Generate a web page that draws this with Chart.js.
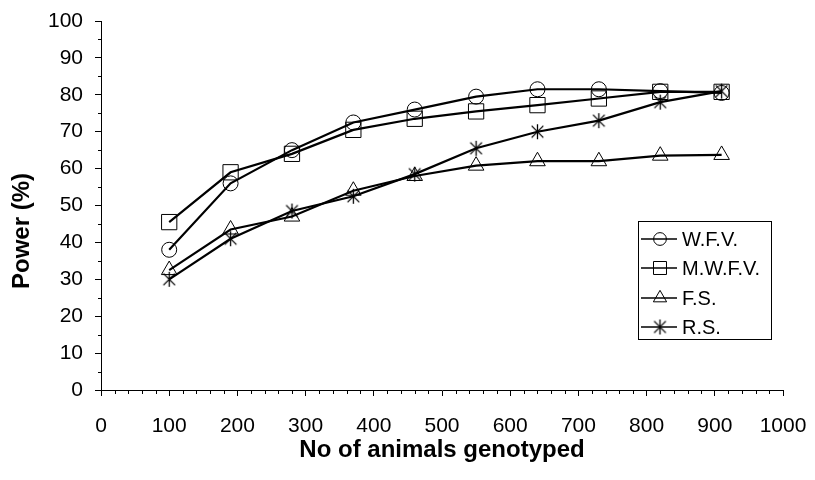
<!DOCTYPE html>
<html><head><meta charset="utf-8">
<script src="https://cdn.jsdelivr.net/npm/chart.js@4.4.1/dist/chart.umd.min.js"></script>
<style>
html,body{margin:0;padding:0;background:#fff;}
#wrap{position:relative;width:815px;height:480px;overflow:hidden;}
#ytitle{position:absolute;left:21px;top:231px;transform:translate(-50%,-50%) rotate(-90deg);font:bold 24px "Liberation Sans",Arial,sans-serif;white-space:nowrap;color:#000;}
#legend{position:absolute;left:638px;top:221px;width:132px;height:117px;border:1px solid #000;background:#fff;font:20px "Liberation Sans",Arial,sans-serif;color:#000;}
.row{position:absolute;left:0;height:24px;display:flex;align-items:center;white-space:nowrap;}
.row span{margin-left:3px;}
</style></head>
<body>
<div id="wrap"><canvas id="c" width="815" height="480"></canvas><div id="ytitle">Power (%)</div><div id="legend"></div></div>
<script>
// ---- data ----
const animals = [100, 190, 280, 370, 460, 550, 640, 730, 820, 910];
const wfv  = [38, 56, 65, 72.5, 76, 79.5, 81.5, 81.5, 81, 80.5];
const mwfv = [45.5, 59, 64, 70.5, 73.5, 75.5, 77.2, 79, 80.8, 80.8];
const fs   = [32.5, 43.5, 47, 54, 58, 60.8, 62, 62, 63.5, 63.7];
const rs   = [30, 41, 48.5, 52.5, 58.5, 65.5, 70, 73, 78, 81];
const seriesNames = ['W.F.V.', 'M.W.F.V.', 'F.S.', 'R.S.'];
const xTitle = 'No of animals genotyped';
const xMin = 0, xMax = 1000, xMajor = 100, xMinor = 20;
const yMin = 0, yMax = 100, yMajor = 10, yMinor = 5;

// ---- styles ----
const FONT = '"Liberation Sans", Arial, sans-serif';
Chart.defaults.font.family = FONT;
Chart.defaults.color = '#000';

function makeStar(size) {
  const c = document.createElement('canvas');
  c.width = size; c.height = size;
  const g = c.getContext('2d');
  const m = size / 2, r = size / 2 - 1;
  g.strokeStyle = '#000'; g.lineWidth = 1.3;
  g.beginPath();
  g.moveTo(m, m - r); g.lineTo(m, m + r);
  const d = r * 0.78;
  g.moveTo(m - d, m - d); g.lineTo(m + d, m + d);
  g.moveTo(m + d, m - d); g.lineTo(m - d, m + d);
  g.stroke();
  return c;
}
const starImg = makeStar(17);

const markerStyles = [
  {pointStyle: 'circle', radius: 7.5},
  {pointStyle: 'rect', radius: 10.8},
  {pointStyle: 'triangle', radius: 9},
  {pointStyle: starImg, radius: 8}
];
const seriesValues = [wfv, mwfv, fs, rs];

const datasets = seriesValues.map((vals, i) => ({
  label: seriesNames[i],
  data: animals.map((x, k) => ({x: x, y: vals[k]})),
  borderColor: '#000',
  borderWidth: 2.2,
  backgroundColor: 'rgba(0,0,0,0)',
  pointStyle: markerStyles[i].pointStyle,
  pointRadius: markerStyles[i].radius,
  pointBorderWidth: 1,
  pointBorderColor: '#000',
  pointBackgroundColor: 'rgba(0,0,0,0)',
  tension: 0,
  fill: false
}));

const minorTicks = {
  id: 'minorTicks',
  afterDraw(chart) {
    const {ctx, scales: {x, y}} = chart;
    ctx.save();
    ctx.strokeStyle = '#000'; ctx.lineWidth = 1;
    ctx.beginPath();
    for (let v = xMin; v <= xMax; v += xMinor) {
      if (v % xMajor === 0) continue;
      const px = Math.round(x.getPixelForValue(v)) + 0.5;
      ctx.moveTo(px, y.bottom); ctx.lineTo(px, y.bottom + 4);
    }
    for (let v = yMin; v <= yMax; v += yMinor) {
      if (v % yMajor === 0) continue;
      const py = Math.round(y.getPixelForValue(v)) + 0.5;
      ctx.moveTo(x.left - 3, py); ctx.lineTo(x.left, py);
    }
    ctx.stroke();
    ctx.restore();
  }
};

const chart = new Chart(document.getElementById('c'), {
  type: 'line',
  data: {datasets},
  plugins: [minorTicks],
  options: {
    responsive: false,
    animation: false,
    events: [],
    layout: {padding: {top: 21, right: 32, left: 0, bottom: 0}},
    plugins: {legend: {display: false}, tooltip: {enabled: false}},
    scales: {
      x: {
        type: 'linear', min: xMin, max: xMax,
        ticks: {stepSize: xMajor, font: {size: 21}, color: '#000', padding: 18, callback: v => String(v)},
        grid: {drawOnChartArea: false, tickLength: 6, tickColor: '#000'},
        border: {color: '#000', width: 1},
        title: {display: true, text: xTitle, font: {size: 24, weight: 'bold'}, color: '#000', padding: {top: 0, bottom: 15}},
        afterFit: s => { s.height = 90; s.paddingLeft = 0; s.paddingRight = 0; }
      },
      y: {
        type: 'linear', min: yMin, max: yMax,
        ticks: {stepSize: yMajor, font: {size: 21}, color: '#000', padding: 12, callback: v => String(v)},
        grid: {drawOnChartArea: false, tickLength: 6, tickColor: '#000'},
        border: {color: '#000', width: 1},
        afterFit: s => { s.width = 101; s.paddingTop = 0; s.paddingBottom = 0; }
      }
    }
  }
});

// ---- legend (HTML) ----
const legend = document.getElementById('legend');
const rowCenters = [17, 46, 76, 105];
seriesNames.forEach((name, i) => {
  const row = document.createElement('div');
  row.className = 'row';
  row.style.top = (rowCenters[i] - 12) + 'px';
  const cv = document.createElement('canvas');
  cv.width = 40; cv.height = 24;
  const g = cv.getContext('2d');
  g.strokeStyle = '#000'; g.lineWidth = 1;
  g.fillStyle = '#fff';
  const st = markerStyles[i].pointStyle;
  if (typeof st === 'string') {
    Chart.helpers.drawPoint(g, {pointStyle: st, radius: markerStyles[i].radius * 0.85, borderWidth: 1, rotation: 0}, 21, 12);
  } else {
    g.drawImage(st, 21 - st.width / 2, 12 - st.height / 2);
  }
  g.beginPath(); g.moveTo(2, 12); g.lineTo(38, 12); g.lineWidth = 1.5; g.stroke();
  row.appendChild(cv);
  const sp = document.createElement('span');
  sp.textContent = name;
  row.appendChild(sp);
  legend.appendChild(row);
});
</script>
</body></html>
